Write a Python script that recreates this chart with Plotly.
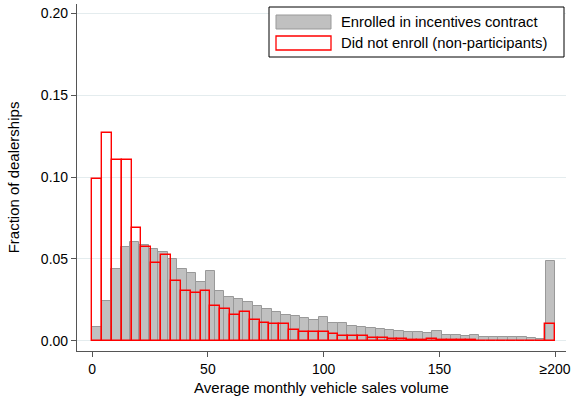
import numpy as np
import plotly.graph_objects as go

# ---- data (fractions of dealerships per bin) ----
enrolled = [0.0086, 0.0245, 0.0440, 0.0573, 0.0604, 0.0587, 0.0561, 0.0542, 0.0500, 0.0438,
            0.0414, 0.0360, 0.0428, 0.0302, 0.0271, 0.0253, 0.0237, 0.0216, 0.0194, 0.0175,
            0.0158, 0.0151, 0.0139, 0.0127, 0.0145, 0.0112, 0.0108, 0.0090, 0.0084, 0.0080,
            0.0071, 0.0066, 0.0062, 0.0053, 0.0052, 0.0047, 0.0061, 0.0039, 0.0037, 0.0032,
            0.0037, 0.0027, 0.0027, 0.0023, 0.0022, 0.0022, 0.0018, 0.0015, 0.0485]
not_enrolled = [0.0989, 0.1268, 0.1103, 0.1103, 0.0688, 0.0573, 0.0475, 0.0524, 0.0364, 0.0306,
                0.0292, 0.0307, 0.0212, 0.0192, 0.0157, 0.0175, 0.0130, 0.0110, 0.0102, 0.0105,
                0.0068, 0.0057, 0.0057, 0.0056, 0.0044, 0.0028, 0.0030, 0.0033, 0.0019, 0.0020,
                0.0014, 0.0010, 0.0006, 0.0008, 0.0010, 0.0004, 0.0004, 0.0003, 0.0003, 0.0002,
                0.0002, 0.0001, 0.0001, 0.0001, 0.0001, 0.0001, 0.0104]
x_min, x_max = 0, 200
x_tickvals = [0, 50, 100, 150, 200]
x_ticktext = ["0", "50", "100", "150", "≥200"]
y_tickvals = [0.00, 0.05, 0.10, 0.15, 0.20]
series_names = ["Enrolled in incentives contract", "Did not enroll (non-participants)"]
x_title = "Average monthly vehicle sales volume"
y_title = "Fraction of dealerships"

FONT = "Liberation Sans, Arial, Helvetica, sans-serif"


def bins(values):
    edges = np.linspace(x_min, x_max, len(values) + 1)
    centers = (edges[:-1] + edges[1:]) / 2
    width = edges[1] - edges[0]
    return centers, width


gc, gw = bins(enrolled)
rc, rw = bins(not_enrolled)

fig = go.Figure()
fig.add_trace(go.Bar(
    x=gc, y=enrolled, width=gw, name=series_names[0],
    marker=dict(color="#c0c0c0", line=dict(color="#999999", width=1)),
    showlegend=False,
))
fig.add_trace(go.Bar(
    x=rc, y=not_enrolled, width=rw, name=series_names[1],
    marker=dict(color="rgba(0,0,0,0)", line=dict(color="#ff0000", width=1.4)),
    showlegend=False,
))

L, R, T, B = 77, 566, 4, 351
W, H = 574, 403


def px(xp):
    return (xp - L) / (R - L)


def py(yp):
    return (B - yp) / (B - T)


shapes = [
    dict(type="rect", xref="paper", yref="paper", x0=px(269), x1=px(564), y0=py(57), y1=py(7),
         line=dict(color="black", width=1), fillcolor="white", layer="above"),
    dict(type="rect", xref="paper", yref="paper", x0=px(276), x1=px(331), y0=py(29), y1=py(15),
         line=dict(color="#999999", width=1), fillcolor="#c0c0c0", layer="above"),
    dict(type="rect", xref="paper", yref="paper", x0=px(276), x1=px(331), y0=py(50), y1=py(36),
         line=dict(color="#ff0000", width=1.3), fillcolor="white", layer="above"),
]
annotations = [
    dict(xref="paper", yref="paper", x=px(339), y=py(22), text=series_names[0], showarrow=False,
         xanchor="left", yanchor="middle", font=dict(family=FONT, size=14.8, color="black")),
    dict(xref="paper", yref="paper", x=px(339), y=py(43), text=series_names[1], showarrow=False,
         xanchor="left", yanchor="middle", font=dict(family=FONT, size=14.8, color="black")),
]

x_lo = x_min - 6.57
x_hi = x_max + 4.75
y_lo = -10 / 1635
y_hi = 0.20 + 9 / 1635

fig.update_layout(
    width=W, height=H,
    margin=dict(l=L, r=W - R, t=T, b=H - B),
    paper_bgcolor="white", plot_bgcolor="white",
    barmode="overlay", bargap=0,
    font=dict(family=FONT, size=14, color="black"),
    shapes=shapes, annotations=annotations,
    xaxis=dict(
        range=[x_lo, x_hi], tickvals=x_tickvals, ticktext=x_ticktext,
        showline=True, linecolor="#555555", linewidth=1.2,
        ticks="outside", ticklen=5, tickcolor="#555555", tickwidth=1,
        showgrid=False, zeroline=False,
        title=dict(text=x_title, font=dict(size=15), standoff=6),
        tickfont=dict(size=14),
    ),
    yaxis=dict(
        range=[y_lo, y_hi], tickvals=y_tickvals, tickformat=".2f",
        showline=True, linecolor="#555555", linewidth=1.2,
        ticks="outside", ticklen=5, tickcolor="#555555", tickwidth=1,
        showgrid=True, gridcolor="#e4ecee", gridwidth=1, zeroline=False,
        title=dict(text=y_title, font=dict(size=15), standoff=17),
        tickfont=dict(size=14),
    ),
)

fig.write_html("out.html", config={"displayModeBar": False},
               post_script="document.body.style.margin='0';document.body.style.overflow='hidden';")
